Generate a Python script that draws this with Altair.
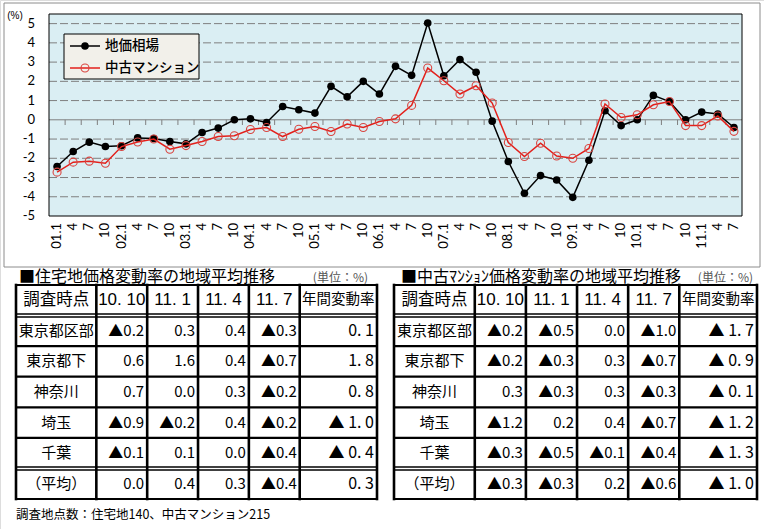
import altair as alt
import pandas as pd

# ------------------------------------------------------------------ data
period_labels = ["01.1", "4", "7", "10", "02.1", "4", "7", "10", "03.1", "4", "7", "10",
                 "04.1", "4", "7", "10", "05.1", "4", "7", "10", "06.1", "4", "7", "10",
                 "07.1", "4", "7", "10", "08.1", "4", "7", "10", "09.1", "4", "7", "10",
                 "10.1", "4", "7", "10", "11.1", "4", "7"]
land_price = [-2.43, -1.65, -1.16, -1.39, -1.35, -0.94, -0.97, -1.13, -1.25, -0.66, -0.43, 0.0,
              0.05, -0.14, 0.69, 0.52, 0.35, 1.74, 1.2, 2.0, 1.34, 2.78, 2.31, 5.03,
              2.29, 3.13, 2.47, -0.07, -2.17, -3.82, -2.9, -3.13, -4.03, -2.1, 0.47, -0.3,
              0.0, 1.27, 0.95, 0.0, 0.4, 0.3, -0.4]
mansion_price = [-2.72, -2.2, -2.15, -2.26, -1.39, -1.15, -1.0, -1.53, -1.34, -1.13, -0.87, -0.83,
                 -0.5, -0.4, -0.87, -0.49, -0.35, -0.61, -0.22, -0.4, -0.09, 0.05, 0.75, 2.69,
                 2.03, 1.34, 1.77, 0.87, -1.18, -1.91, -1.22, -1.88, -2.0, -1.49, 0.82, 0.12,
                 0.26, 0.78, 0.95, -0.3, -0.3, 0.2, -0.6]
series_names = ["地価相場", "中古マンション"]
y_ticks = [-5, -4, -3, -2, -1, 0, 1, 2, 3, 4, 5]

table_header = ["調査時点", "10. 10", "11. 1", "11. 4", "11. 7", "年間変動率"]
regions = ["東京都区部", "東京都下", "神奈川", "埼玉", "千葉", "（平均）"]
# columns: 10.10, 11.1, 11.4, 11.7, annual
land_rows = [[-0.2, 0.3, 0.4, -0.3, 0.1],
             [0.6, 1.6, 0.4, -0.7, 1.8],
             [0.7, 0.0, 0.3, -0.2, 0.8],
             [-0.9, -0.2, 0.4, -0.2, -1.0],
             [-0.1, 0.1, 0.0, -0.4, -0.4],
             [0.0, 0.4, 0.3, -0.4, 0.3]]
mansion_rows = [[-0.2, -0.5, 0.0, -1.0, -1.7],
                [-0.2, -0.3, 0.3, -0.7, -0.9],
                [0.3, -0.3, 0.3, -0.3, -0.1],
                [-1.2, 0.2, 0.4, -0.7, -1.2],
                [-0.3, -0.5, -0.1, -0.4, -1.3],
                [-0.3, -0.3, 0.2, -0.6, -1.0]]
land_title = "■住宅地価格変動率の地域平均推移"
mansion_title = "■中古ﾏﾝｼｮﾝ価格変動率の地域平均推移"
unit_text = "(単位：%)"
footnote = "調査地点数：住宅地140、中古マンション215"

# ------------------------------------------------------------------ layout / style
W, H = 764, 529
PLOT_L, PLOT_R, PLOT_T, PLOT_B = 49, 742, 14, 216
Y_MIN, Y_MAX = -5, 5.5
BG = "#DAEEF3"
RED_LINE = "#E3201B"
RED_PT = "#D9443F"
CJK = "Noto Sans CJK JP"
LAT = "Lato"
ARIAL = "Liberation Sans"

period_keys = [f"k{i:02d}" for i in range(len(period_labels))]
one = pd.DataFrame({"k": [0]})

xs = alt.Scale(type="band", domain=period_keys, range=[PLOT_L, PLOT_R],
               paddingInner=0, paddingOuter=0)
ys = alt.Scale(type="linear", domain=[Y_MIN, Y_MAX], range=[PLOT_B, PLOT_T],
               nice=False, zero=False)


def XK(bp=0.5):
    return alt.X("key:N", scale=xs, axis=None, bandPosition=bp)


def YV(field):
    return alt.Y(field, scale=ys, axis=None)


df_land = pd.DataFrame({"key": period_keys, "value": land_price})
df_mans = pd.DataFrame({"key": period_keys, "value": mansion_price})
df_lbl = pd.DataFrame({"key": period_keys, "label": period_labels})
df_ticks = pd.DataFrame({"key": period_keys[1:]})
df_grid = pd.DataFrame({"v": [t for t in y_ticks if t not in (0, Y_MIN)]})
df_ylab = pd.DataFrame({"v": y_ticks, "lbl": [str(t) for t in y_ticks]})

bg = alt.Chart(one).mark_rect(fill=BG).encode(
    x=alt.value(PLOT_L), x2=alt.value(PLOT_R),
    y=alt.YDatum(Y_MIN, scale=ys, axis=None), y2=alt.datum(Y_MAX))
grid = alt.Chart(df_grid).mark_rule(color="#7F7F7F", strokeWidth=1, strokeDash=[8, 3]).encode(
    x=alt.value(PLOT_L), x2=alt.value(PLOT_R), y=YV("v:Q"))
zero = alt.Chart(one).mark_rule(color="#7F7F7F", strokeWidth=1).encode(
    x=alt.value(PLOT_L), x2=alt.value(PLOT_R), y=alt.YDatum(0, scale=ys, axis=None))
ticks = alt.Chart(df_ticks).mark_rule(color="#7F7F7F", strokeWidth=1).encode(
    x=XK(0), y=alt.YDatum(0, scale=ys, axis=None), y2=alt.datum(-0.27))
border = alt.Chart(one).mark_rect(fill="transparent", stroke="black", strokeWidth=1).encode(
    x=alt.value(PLOT_L), x2=alt.value(PLOT_R),
    y=alt.YDatum(Y_MIN, scale=ys, axis=None), y2=alt.datum(Y_MAX))

line_land = alt.Chart(df_land).mark_line(color="black", strokeWidth=1.5).encode(
    x=XK(), y=YV("value:Q"))
pts_land = alt.Chart(df_land).mark_point(shape="circle", filled=True, color="black",
                                         size=58, opacity=1).encode(x=XK(), y=YV("value:Q"))
line_mans = alt.Chart(df_mans).mark_line(color=RED_LINE, strokeWidth=1.5).encode(
    x=XK(), y=YV("value:Q"))
pts_mans = alt.Chart(df_mans).mark_point(shape="circle", filled=False, color=RED_PT,
                                         size=64, strokeWidth=1.1, opacity=1).encode(
    x=XK(), y=YV("value:Q"))

ylab = alt.Chart(df_ylab).mark_text(align="right", baseline="middle", font=LAT,
                                    fontSize=13, color="black").encode(
    x=alt.value(35), y=YV("v:Q"), text="lbl:N")
xlab = alt.Chart(df_lbl).mark_text(angle=270, align="right", baseline="middle", font=LAT,
                                   fontSize=13, color="black").encode(
    x=XK(), y=alt.value(223), text="label:N")
pct = alt.Chart(pd.DataFrame({"t": ["(%)"]})).mark_text(
    align="center", baseline="middle", font=ARIAL, fontSize=10, color="black").encode(
    x=alt.value(15), y=alt.value(16), text="t:N")

line_chart = alt.layer(bg, grid, zero, ticks, border, line_land, pts_land, line_mans,
                       pts_mans, ylab, xlab, pct)

# legend
leg_ys = alt.Scale(type="point", domain=series_names, range=[46, 68], padding=0)
df_leg = pd.DataFrame({"series": series_names, "color": ["black", RED_LINE]})
leg_box = alt.Chart(one).mark_rect(fill="#F2F0EA", stroke="black", strokeWidth=1).encode(
    x=alt.value(64), x2=alt.value(199), y=alt.value(34), y2=alt.value(79))
leg_rule = alt.Chart(df_leg).mark_rule(strokeWidth=1.5).encode(
    x=alt.value(70), x2=alt.value(100),
    y=alt.Y("series:N", scale=leg_ys, axis=None),
    color=alt.Color("color:N", scale=None))
leg_pt1 = alt.Chart(df_leg.iloc[[0]]).mark_point(shape="circle", filled=True, color="black",
                                                 size=58, opacity=1).encode(
    x=alt.value(85), y=alt.Y("series:N", scale=leg_ys, axis=None))
leg_pt2 = alt.Chart(df_leg.iloc[[1]]).mark_point(shape="circle", filled=False, color=RED_PT,
                                                 size=64, strokeWidth=1.1, opacity=1).encode(
    x=alt.value(85), y=alt.Y("series:N", scale=leg_ys, axis=None))
leg_txt = alt.Chart(df_leg).mark_text(align="left", baseline="middle", font=CJK,
                                      fontSize=13.5, fontWeight=500, color="black").encode(
    x=alt.value(105), y=alt.Y("series:N", scale=leg_ys, axis=None), text="series:N")
legend = alt.layer(leg_box, leg_rule, leg_pt1, leg_pt2, leg_txt)

frame = alt.Chart(one).mark_rect(fill="transparent", stroke="#8C8C8C", strokeWidth=1).encode(
    x=alt.value(4), x2=alt.value(760), y=alt.value(3), y2=alt.value(267))

# ------------------------------------------------------------------ tables
COL_UNITS = [1.58, 1, 1, 1, 1, 1.52]
N_ROWS = 7
TBL_T, TBL_B = 285, 499


def fmt_q(v):
    return ("▲" if v < 0 else "") + f"{abs(v):.1f}"


def fmt_year(v):
    s = f"{abs(v):.1f}".replace(".", ". ")
    return ("▲ " + s) if v < 0 else s


def build_table(rows, px_left, px_right, title, title_x, unit_x):
    edges = [0.0]
    for w in COL_UNITS:
        edges.append(round(edges[-1] + w, 4))
    total = edges[-1]
    xs_t = alt.Scale(domain=[0, total], range=[px_left, px_right], nice=False, zero=False)
    ys_t = alt.Scale(domain=[0, N_ROWS], range=[TBL_T, TBL_B], nice=False, zero=False)

    def X(f):
        return alt.X(f, scale=xs_t, axis=None)

    def Y(f):
        return alt.Y(f, scale=ys_t, axis=None)

    h = pd.DataFrame({"y": list(range(N_ROWS + 1))})
    h["x0"] = 0.0
    h["x1"] = total
    h["w"] = [4.6 if i in (1, N_ROWS - 1) else 2.2 for i in h["y"]]
    dbl = pd.DataFrame({"y": [1, N_ROWS - 1], "x0": [0.0, 0.0], "x1": [total, total]})
    v = pd.DataFrame({"x": edges, "y0": 0, "y1": N_ROWS})

    hl = alt.Chart(h).mark_rule(color="black").encode(
        x=X("x0:Q"), x2="x1:Q", y=Y("y:Q"),
        strokeWidth=alt.StrokeWidth("w:Q", scale=None))
    gap = alt.Chart(dbl).mark_rule(color="white", strokeWidth=1.4).encode(
        x=X("x0:Q"), x2="x1:Q", y=Y("y:Q"))
    vl = alt.Chart(v).mark_rule(color="black", strokeWidth=2.6, strokeCap="square").encode(
        x=X("x:Q"), y=Y("y0:Q"), y2="y1:Q")

    centers = [(edges[i] + edges[i + 1]) / 2 for i in range(len(COL_UNITS))]
    hdr_cjk = pd.DataFrame({"text": [table_header[0], table_header[5]],
                            "xc": [centers[0], centers[5]],
                            "yc": [0.5, 0.5], "fs": [16.5, 14.5]})
    hdr_num = pd.DataFrame({"text": table_header[1:5], "xc": centers[1:5], "yc": 0.5})
    reg = pd.DataFrame({"text": regions, "xc": centers[0],
                        "yc": [r + 1.5 for r in range(len(regions))]})
    vals = []
    ann = []
    for r, row in enumerate(rows):
        for c in range(4):
            vals.append({"text": fmt_q(row[c]), "xr": edges[c + 2], "yc": r + 1.5})
        ann.append({"text": fmt_year(row[4]), "xr": edges[6], "yc": r + 1.5})
    vals = pd.DataFrame(vals)
    ann = pd.DataFrame(ann)

    t_hdr_cjk = alt.Chart(hdr_cjk).mark_text(align="center", baseline="middle", font=CJK,
                                             color="black").encode(
        x=X("xc:Q"), y=Y("yc:Q"), text="text:N", size=alt.Size("fs:Q", scale=None))
    t_hdr_num = alt.Chart(hdr_num).mark_text(align="center", baseline="middle", font=ARIAL,
                                             fontSize=17, color="black").encode(
        x=X("xc:Q"), y=Y("yc:Q"), text="text:N")
    t_reg = alt.Chart(reg).mark_text(align="center", baseline="middle", font=CJK,
                                     fontSize=15, color="black").encode(
        x=X("xc:Q"), y=Y("yc:Q"), text="text:N")
    t_val = alt.Chart(vals).mark_text(align="right", baseline="middle", font=CJK,
                                      fontSize=15, dx=-3, color="black").encode(
        x=X("xr:Q"), y=Y("yc:Q"), text="text:N")
    t_ann = alt.Chart(ann).mark_text(align="right", baseline="middle", font=CJK,
                                     fontSize=16, dx=-3, color="black").encode(
        x=X("xr:Q"), y=Y("yc:Q"), text="text:N")
    t_title = alt.Chart(pd.DataFrame({"t": [title]})).mark_text(
        align="left", baseline="middle", font=CJK, fontSize=16, color="black").encode(
        x=alt.value(title_x), y=alt.value(277), text="t:N")
    t_unit = alt.Chart(pd.DataFrame({"t": [unit_text]})).mark_text(
        align="right", baseline="middle", font=CJK, fontSize=12, color="#555555").encode(
        x=alt.value(unit_x), y=alt.value(278), text="t:N")
    return alt.layer(hl, gap, vl, t_hdr_cjk, t_hdr_num, t_reg, t_val, t_ann, t_title, t_unit)


left_tbl = build_table(land_rows, 16, 377, land_title, 19, 368)
right_tbl = build_table(mansion_rows, 394, 757, mansion_title, 401, 753)

note = alt.Chart(pd.DataFrame({"t": [footnote]})).mark_text(
    align="left", baseline="middle", font=CJK, fontSize=12.5, color="black").encode(
    x=alt.value(16), y=alt.value(515), text="t:N")

chart = alt.layer(frame, line_chart, legend, left_tbl, right_tbl, note).resolve_scale(
    x="independent", y="independent"
).properties(
    width=W, height=H, padding=0, autosize=alt.AutoSizeParams(type="none")
).configure_view(strokeWidth=0).configure_axis(disable=True).configure(background="white")

chart.save("out.html", embed_options={"renderer": "svg", "actions": False})
